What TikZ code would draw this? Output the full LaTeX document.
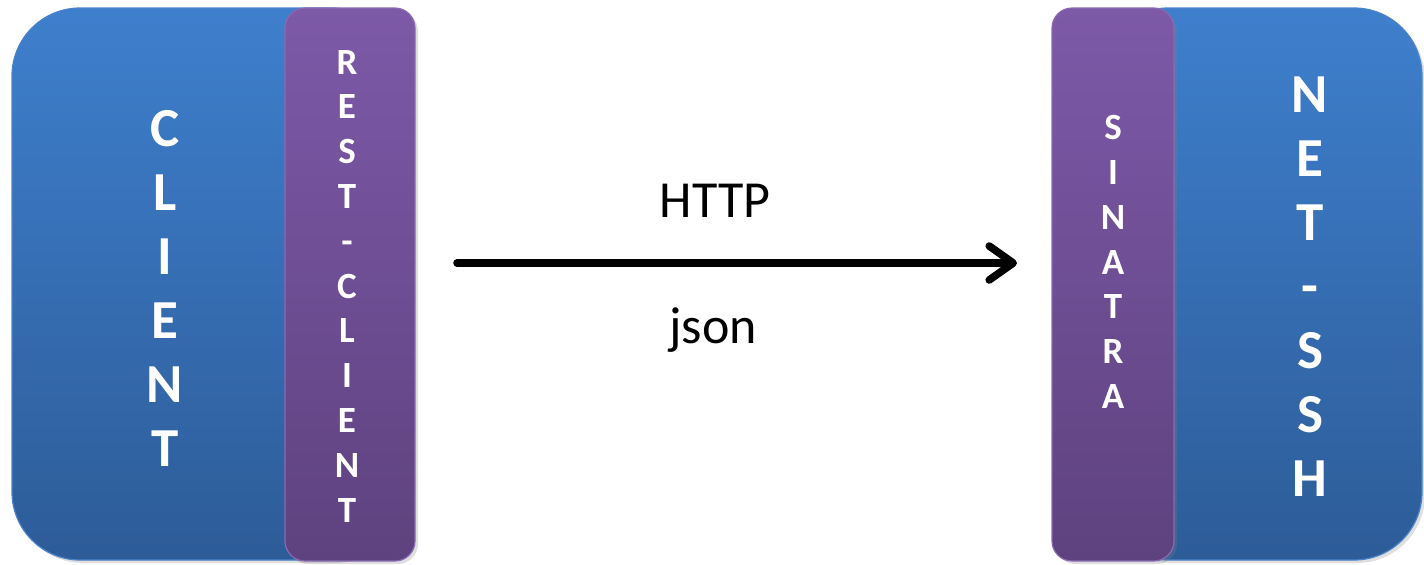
\documentclass[tikz,border=0pt]{standalone}
\usepackage{fontspec}
\setmainfont{Carlito}
\usetikzlibrary{shadows,arrows.meta}
\definecolor{bluetop}{HTML}{3E7FCD}
\definecolor{bluebot}{HTML}{2D5C98}
\definecolor{blueline}{HTML}{4A84C8}
\definecolor{purtop}{HTML}{7D59A8}
\definecolor{purbot}{HTML}{5E427F}
\definecolor{purline}{HTML}{8A6AB2}
\tikzset{
  bluebox/.style={rectangle, rounded corners=34pt, top color=bluetop, bottom color=bluebot,
    draw=blueline, line width=0.6pt, inner sep=0,
    drop shadow={opacity=0.25, shadow xshift=1.5pt, shadow yshift=-1.5pt}},
  purbar/.style={rectangle, rounded corners=10pt, top color=purtop, bottom color=purbot,
    draw=purline, line width=0.6pt, inner sep=0,
    drop shadow={opacity=0.25, shadow xshift=1.5pt, shadow yshift=-1.5pt}},
  bigtxt/.style={text=white, font=\bfseries\fontsize{27.5}{32}\selectfont, align=center, inner sep=0},
  smalltxt/.style={text=white, font=\bfseries\fontsize{18.5}{22.4}\selectfont, align=center, inner sep=0},
  lbl/.style={text=black, font=\fontsize{26}{30}\selectfont, inner sep=0, anchor=base},
  flow/.style={line width=3.8pt, line cap=round, -{Straight Barb[length=12pt,width=17pt,round]}}
}
\begin{document}
\begin{tikzpicture}[x=0.5pt,y=-0.5pt]
\useasboundingbox (0,0) rectangle (1424,564);
% left side
\node[bluebox, minimum width=194pt, minimum height=276pt] (leftbox) at (206,284) {};
\node[purbar, minimum width=65pt, minimum height=276.5pt] (restbar) at (350,284.5) {};
\node[bigtxt] (clienttxt) at (165,288) {C\\L\\I\\E\\N\\T};
\node[smalltxt] (resttxt) at (347,286) {R\\E\\S\\T\\-\\C\\L\\I\\E\\N\\T};
% right side
\node[bluebox, minimum width=161pt, minimum height=276pt] (rightbox) at (1261,284) {};
\node[purbar, minimum width=61pt, minimum height=276.5pt] (sinbar) at (1113,284.5) {};
\node[smalltxt] (sintxt) at (1113,262) {S\\I\\N\\A\\T\\R\\A};
\node[bigtxt] (sshtxt) at (1310,287) {N\\E\\T\\-\\S\\S\\H};
% arrow
\coordinate (as) at (457,263);
\coordinate (ae) at (1017,263);
\draw[flow] (as) -- (ae);
\node[lbl] (http) at (715,217) {HTTP};
\node[lbl] (json) at (713,343) {json};
\end{tikzpicture}
\end{document}
